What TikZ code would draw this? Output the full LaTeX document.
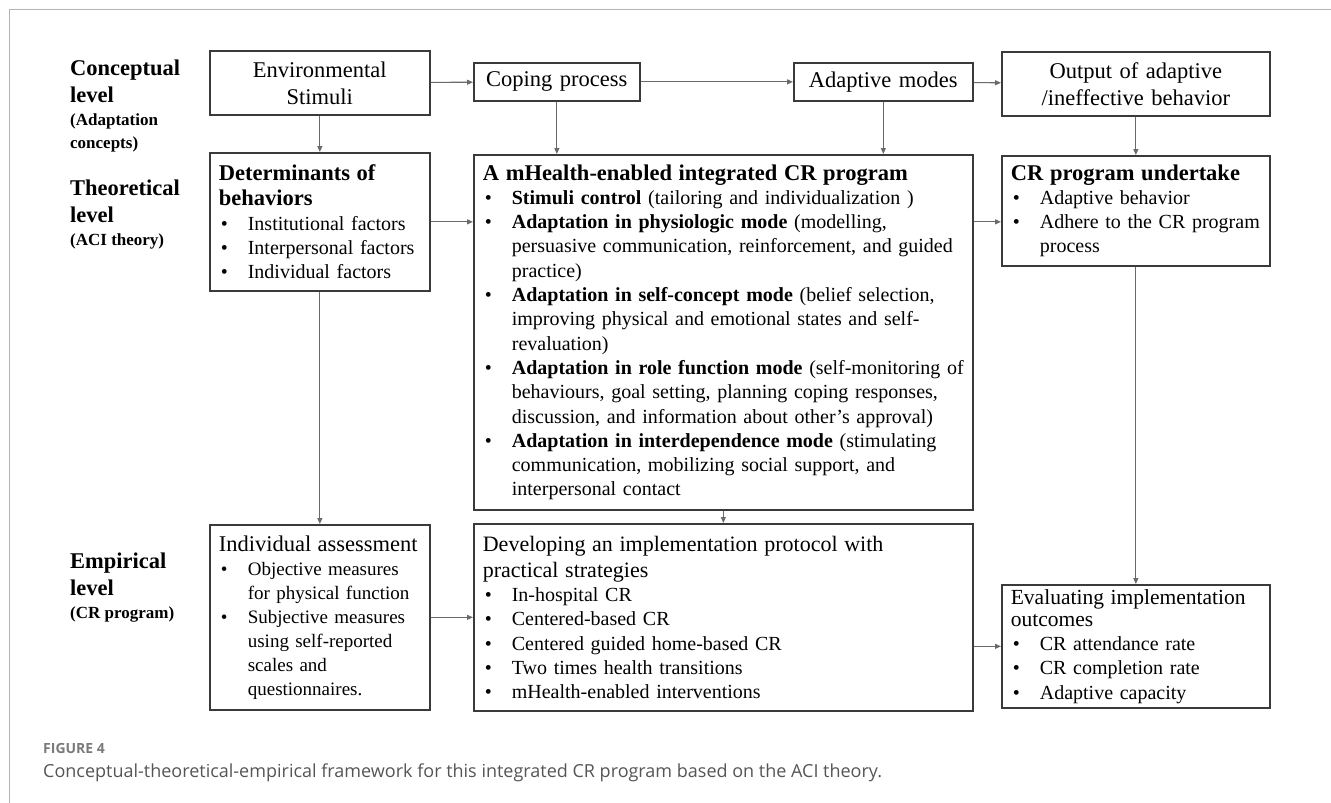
\documentclass[tikz,border=0pt]{standalone}
\usepackage{fontspec}
\setmainfont{Liberation Serif}
\newfontfamily\capfont{Open Sans}
\usetikzlibrary{arrows.meta}
\definecolor{boxcol}{HTML}{3A3A3A}
\definecolor{arrcol}{HTML}{6A6A6A}
\definecolor{framecol}{HTML}{B4B4B4}
\definecolor{capgray}{HTML}{7A7A7A}
\definecolor{captext}{HTML}{555555}
\newcommand{\ttlfont}{\fontsize{22.5}{25}\selectfont}
\newcommand{\bodyfont}{\fontsize{20}{24.3}\selectfont}
\newcommand{\bul}[1]{\par\noindent\hangindent=29pt\hangafter=1\hbox to 29pt{\hspace{2pt}\textbullet\hfil}#1\par}
\begin{document}
\begin{tikzpicture}[x=1pt, y=-1pt,
    box/.style={draw=boxcol, line width=1.7pt, anchor=north west, inner xsep=9pt, inner ysep=0pt},
    hbox/.style={box, align=center, font=\fontsize{22.5}{27}\selectfont},
    lbox/.style={box, align=left, font=\bodyfont},
    lvl/.style={anchor=base west, inner sep=0pt, align=left, font=\fontsize{22.5}{27}\selectfont\bfseries},
    sublvl/.style={anchor=base west, inner sep=0pt, align=left, font=\fontsize{17}{23}\selectfont\bfseries},
    >={Triangle[length=6pt,width=5pt]}]
    \useasboundingbox (0,0) rectangle (1331,803);
    \draw[framecol, line width=1pt] (1331,9) -| (9,803);

    \node[lvl] (conc) at (70,102) {Conceptual\\level};
    \node[sublvl] (concsub) at (70,148) {(Adaptation\\concepts)};
    \node[lvl] (theo) at (70,222) {Theoretical\\level};
    \node[sublvl] (theosub) at (70,245) {(ACI theory)};
    \node[lvl] (emp) at (70,595) {Empirical\\level};
    \node[sublvl] (empsub) at (70,618) {(CR program)};

    \node[hbox, text width=202pt, minimum height=64pt] (env) at (209,50) {Environmental\\Stimuli};
    \node[hbox, text width=148pt, minimum height=38pt] (cope) at (473,62) {Coping process};
    \node[hbox, text width=161pt, minimum height=38pt] (adapt) at (793,62) {Adaptive modes};
    \node[hbox, text width=250pt, minimum height=64pt] (out) at (1001,51) {Output of adaptive\\/ineffective behavior};

    \node[lbox, text width=202pt, minimum height=138pt] (det) at (209,152) {{\ttlfont\bfseries Determinants of\\behaviors\par}
        \bul{Institutional factors}
        \bul{Interpersonal factors}
        \bul{Individual factors}};
    \node[lbox, text width=481pt, minimum height=355pt] (mh) at (473,154) {{\ttlfont\bfseries A mHealth-enabled integrated CR program\par}
        \bul{\textbf{Stimuli control} (tailoring and individualization )}
        \bul{\textbf{Adaptation in physiologic mode} (modelling,\newline persuasive communication, reinforcement, and guided\newline practice)}
        \bul{\textbf{Adaptation in self-concept mode} (belief selection,\newline improving physical and emotional states and self-\newline revaluation)}
        \bul{\textbf{Adaptation in role function mode} (self-monitoring of\newline behaviours, goal setting, planning coping responses,\newline discussion, and information about other's approval)}
        \bul{\textbf{Adaptation in interdependence mode} (stimulating\newline communication, mobilizing social support, and\newline interpersonal contact}};
    \node[lbox, text width=250pt, minimum height=110pt] (und) at (1001,155) {{\ttlfont\bfseries CR program undertake\par}
        \bul{Adaptive behavior}
        \bul{Adhere to the CR program\newline process}};

    \node[lbox, text width=202pt, minimum height=185pt, font=\fontsize{19}{24}\selectfont] (ind) at (209,524) {{\ttlfont Individual assessment\par}
        \bul{Objective measures\newline for physical function}
        \bul{Subjective measures\newline using self-reported\newline scales and\newline questionnaires.}};
    \node[lbox, text width=481pt, minimum height=187pt] (dev) at (473,523) {{\fontsize{22}{26}\selectfont Developing an implementation protocol with\\practical strategies\par}
        \bul{In-hospital CR}
        \bul{Centered-based CR}
        \bul{Centered guided home-based CR}
        \bul{Two times health transitions}
        \bul{mHealth-enabled interventions}};
    \node[lbox, text width=250pt, minimum height=123pt] (eval) at (1001,584) {{\fontsize{21.5}{22}\selectfont Evaluating implementation\\outcomes\par}
        \bul{CR attendance rate}
        \bul{CR completion rate}
        \bul{Adaptive capacity}};

    \path [->, arrcol, line width=1.1pt] (env) edge (cope);
    \path [->, arrcol, line width=1.1pt] (cope) edge (adapt);
    \path [->, arrcol, line width=1.1pt] (adapt) edge (out);
    \path [->, arrcol, line width=1.1pt] (env) edge (det);
    \path [->, arrcol, line width=1.1pt] (cope.south) edge (cope.south |- mh.north);
    \path [->, arrcol, line width=1.1pt] (adapt) edge (adapt |- mh.north);
    \path [->, arrcol, line width=1.1pt] (out) edge (und);
    \path [->, arrcol, line width=1.1pt] (det.east) edge (det.east -| mh.west);
    \path [->, arrcol, line width=1.1pt] (mh.east |- det.east) edge (und.west |- det.east);
    \path [->, arrcol, line width=1.1pt] (det) edge (ind);
    \path [->, arrcol, line width=1.1pt] (mh) edge (dev);
    \path [->, arrcol, line width=1.1pt] (und) edge (eval);
    \path [->, arrcol, line width=1.1pt] (ind) edge (dev);
    \path [->, arrcol, line width=1.1pt] (dev.east |- eval) edge (eval);

    \node[anchor=base west, inner sep=0pt, text=capgray, font=\capfont\bfseries\fontsize{14}{16}\selectfont] (fig) at (43,753) {FIGURE 4};
    \node[anchor=base west, inner sep=0pt, text=captext, font=\capfont\fontsize{18}{21}\selectfont] (cap) at (43,777) {Conceptual-theoretical-empirical framework for this integrated CR program based on the ACI theory.};
\end{tikzpicture}
\end{document}
